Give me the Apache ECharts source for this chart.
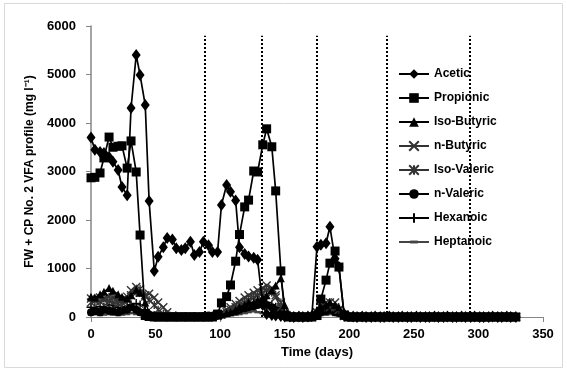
<!DOCTYPE html>
<html>
<head>
<meta charset="utf-8">
<script src="https://cdn.jsdelivr.net/npm/echarts@6/dist/echarts.min.js"></script>
<style>
  html, body { margin: 0; padding: 0; background: #fff; }
  #chart { width: 567px; height: 376px; }
</style>
</head>
<body>
<div id="chart"></div>
<script>
// Sampling days (twice-weekly) and VFA concentrations in mg/l
const days = [0,3,7,10,14,17,21,24,28,31,35,38,42,45,49,52,56,59,63,66,70,73,77,80,84,87,91,94,98,101,105,108,112,115,119,122,126,129,133,136,140,143,147,150,154,157,161,164,168,171,175,178,182,185,189,192,196,199,203,206,210,213,217,220,224,227,231,234,238,241,245,248,252,255,259,262,266,269,273,276,280,283,287,290,294,297,301,304,308,311,315,318,322,325,329];

const acetic = [3700,3450,3400,3380,3300,3200,3030,2680,2510,4310,
  5400,4990,4370,2390,950,1240,1440,1630,1600,1420,
  1380,1420,1550,1280,1340,1550,1480,1340,1340,2310,
  2720,2580,2400,1440,1300,1250,1220,1180,250,60,
  40,30,20,10,10,0,10,0,10,20,
  1450,1490,1520,1860,1200,1030,60,20,10,0,
  10,0,0,10,0,0,10,0,0,10,
  0,0,10,0,0,0,10,0,0,10,
  0,0,10,0,0,10,0,0,0,10,
  0,0,10,0,0];

const propionic = [2870,2880,2970,3280,3710,3500,3520,3530,3070,3630,
  2990,1690,30,10,0,0,0,0,0,0,
  0,0,0,0,0,0,0,0,60,290,
  420,660,1150,1700,2270,2410,3010,2990,3550,3880,
  3510,2600,950,40,0,0,0,0,0,0,
  30,370,760,1110,1360,1030,40,0,0,0,
  0,0,0,0,0,0,0,0,0,0,
  0,0,0,0,0,0,0,0,0,0,
  0,0,0,0,0,0,0,0,0,0,
  0,0,0,0,0];

const isoButyric = [420,400,470,520,600,540,470,420,380,450,
  560,500,300,100,30,10,10,0,10,0,
  10,0,10,0,10,20,10,20,30,50,
  80,100,150,200,250,300,300,350,400,450,
  550,650,800,250,20,10,0,10,0,20,
  150,200,250,300,250,200,30,10,0,10,
  0,10,0,0,10,0,0,10,0,0,
  10,0,0,10,0,0,10,0,0,10,
  0,0,10,0,0,10,0,0,10,0,
  0,10,0,0,10];

const nButyric = [300,330,320,350,330,300,280,350,420,550,
  620,500,420,480,400,300,200,100,30,10,
  10,0,10,0,0,10,10,0,20,60,
  150,200,270,330,400,450,500,550,600,650,
  600,400,200,50,10,0,10,0,0,10,
  100,250,300,200,300,150,30,0,10,0,
  10,0,0,10,0,10,0,0,10,0,
  0,10,0,0,10,0,0,10,0,0,
  10,0,0,10,0,0,10,0,0,10,
  0,0,10,0,0];

const isoValeric = [380,350,400,380,420,400,350,300,350,450,
  500,580,450,350,250,150,60,20,10,0,
  0,10,0,0,10,0,0,10,30,50,
  100,150,200,250,300,350,400,450,500,550,
  500,450,300,80,10,0,0,10,0,0,
  80,200,250,300,200,150,20,0,0,10,
  0,0,10,0,0,10,0,0,0,10,
  0,0,0,10,0,0,10,0,0,0,
  10,0,0,0,10,0,0,10,0,0,
  0,10,0,0,0];

const nValeric = [100,120,100,150,130,120,100,130,150,200,
  150,100,80,50,30,20,20,10,10,20,
  10,20,10,20,10,20,30,20,30,50,
  80,100,120,150,180,200,220,250,300,250,
  200,150,100,30,10,10,0,10,0,10,
  60,100,120,150,100,80,20,0,10,0,
  0,10,0,10,0,0,10,0,10,0,
  0,10,0,0,10,0,10,0,0,10,
  0,10,0,0,10,0,0,10,0,0,
  10,0,0,10,0];

const hexanoic = [200,180,220,200,250,230,200,180,220,250,
  280,250,150,50,20,10,10,0,10,0,
  10,0,10,0,10,0,10,20,30,50,
  80,120,150,200,250,280,300,320,350,300,
  250,200,100,30,10,0,10,0,0,10,
  50,120,150,200,150,100,20,0,0,10,
  0,0,10,0,10,0,0,10,0,0,
  10,0,0,10,0,10,0,0,10,0,
  0,10,0,0,10,0,10,0,0,10,
  0,0,10,0,0];

const heptanoic = [50,60,40,50,60,50,40,50,60,80,
  60,50,30,20,10,10,0,10,0,10,
  0,10,0,10,0,10,0,10,20,20,
  30,40,50,60,80,100,120,100,80,60,
  50,40,30,10,0,10,0,0,10,0,
  20,40,50,60,40,30,10,0,0,10,
  0,0,0,10,0,0,10,0,0,0,
  10,0,0,0,10,0,0,0,10,0,
  0,0,10,0,0,0,10,0,0,0,
  10,0,0,0,0];

// Phase boundaries (days) marked by dotted verticals
const phaseDays = [88, 132, 175, 229, 293];
const phaseTop = 5800;

const xTicks = { min: 0, max: 350, step: 50 };
const yTicks = { min: 0, max: 6000, step: 1000 };

const FONT = 'Liberation Sans, Arial, sans-serif';
const SYM_X = 'path://M0,0L10,10M10,0L0,10';
const SYM_STAR = 'path://M0,0L10,10M10,0L0,10M5,0L5,10';
const SYM_PLUS = 'path://M5,0L5,10M0,5L10,5';
// short bar inside a square box so it keeps its proportions everywhere
const SYM_DASH = 'path://M0,0L0,0M10,10L10,10M1,3.5L9,3.5L9,6.5L1,6.5Z';

const defs = [
  { name: 'Acetic', values: acetic, symbol: 'diamond', size: [9, 12], color: '#000', lw: 1.7 },
  { name: 'Propionic', values: propionic, symbol: 'rect', size: 9, color: '#000', lw: 1.7 },
  { name: 'Iso-Butyric', values: isoButyric, symbol: 'triangle', size: 8, color: '#000', lw: 1.5 },
  { name: 'n-Butyric', values: nButyric, symbol: SYM_X, size: 8, color: '#333', lw: 1.5, stroke: true },
  { name: 'Iso-Valeric', values: isoValeric, symbol: SYM_STAR, size: 8, color: '#333', lw: 1.5, stroke: true },
  { name: 'n-Valeric', values: nValeric, symbol: 'circle', size: 8, color: '#000', lw: 1.5 },
  { name: 'Hexanoic', values: hexanoic, symbol: SYM_PLUS, size: 9, color: '#000', lw: 1.0, stroke: true },
  { name: 'Heptanoic', values: heptanoic, symbol: SYM_DASH, size: 8, color: '#444', lw: 1.5 }
];

const series = defs.map(function (d, k) {
  return {
    name: d.name,
    type: 'line',
    data: days.map(function (day, i) { return [day, d.values[i]]; }),
    symbol: d.symbol,
    symbolSize: d.size,
    symbolKeepAspect: true,
    showAllSymbol: true,
    lineStyle: { color: d.color, width: d.lw },
    itemStyle: d.stroke
      ? { color: d.color, borderColor: d.color, borderWidth: 1.4 }
      : { color: d.color, borderColor: d.color, borderWidth: 0 },
    z: 10 - k,
    animation: false
  };
});

// Dotted phase separators
series.push({
  name: 'phases',
  type: 'line',
  data: [],
  silent: true,
  animation: false,
  markLine: {
    silent: true,
    symbol: ['none', 'none'],
    label: { show: false },
    lineStyle: { color: '#000', type: [2, 2], width: 2 },
    data: phaseDays.map(function (d) {
      return [{ coord: [d, 0] }, { coord: [d, phaseTop] }];
    })
  }
});

const chart = echarts.init(document.getElementById('chart'), null, { renderer: 'canvas' });
chart.setOption({
  animation: false,
  backgroundColor: '#fff',
  textStyle: { fontFamily: FONT },
  graphic: [{
    type: 'rect',
    shape: { x: 4.5, y: 3.5, width: 558, height: 364 },
    style: { fill: 'none', stroke: '#d9d9d9', lineWidth: 1 },
    silent: true,
    z: -10
  }],
  grid: { left: 91, right: 24, top: 26, bottom: 59 },
  legend: {
    orient: 'vertical',
    left: 398,
    top: 68,
    itemWidth: 30,
    itemHeight: 12,
    itemGap: 12,
    padding: 0,
    data: defs.map(function (d) { return d.name; }),
    textStyle: { fontFamily: FONT, fontWeight: 'bold', fontSize: 12, color: '#000' }
  },
  xAxis: {
    type: 'value',
    min: xTicks.min,
    max: xTicks.max,
    interval: xTicks.step,
    name: 'Time (days)',
    nameLocation: 'middle',
    nameGap: 28,
    nameTextStyle: { fontFamily: FONT, fontWeight: 'bold', fontSize: 13, color: '#000' },
    axisLine: { lineStyle: { color: '#868686', width: 1 } },
    axisTick: { show: true, length: 5, lineStyle: { color: '#868686' } },
    axisLabel: { margin: 11, fontFamily: FONT, fontWeight: 'bold', fontSize: 13, color: '#000',
      formatter: function (v) { return String(v); } },
    splitLine: { show: false }
  },
  yAxis: {
    type: 'value',
    min: yTicks.min,
    max: yTicks.max,
    interval: yTicks.step,
    name: 'FW + CP No. 2 VFA profile (mg l\u207B\u00B9)',
    nameLocation: 'middle',
    nameGap: 54,
    nameTextStyle: { fontFamily: FONT, fontWeight: 'bold', fontSize: 12, color: '#000' },
    axisLine: { show: true, lineStyle: { color: '#868686', width: 1.5 } },
    axisTick: { show: true, length: 5, lineStyle: { color: '#868686' } },
    axisLabel: { margin: 15, fontFamily: FONT, fontWeight: 'bold', fontSize: 13, color: '#000',
      formatter: function (v) { return String(v); } },
    splitLine: { show: false }
  },
  series: series
});
</script>
</body>
</html>
